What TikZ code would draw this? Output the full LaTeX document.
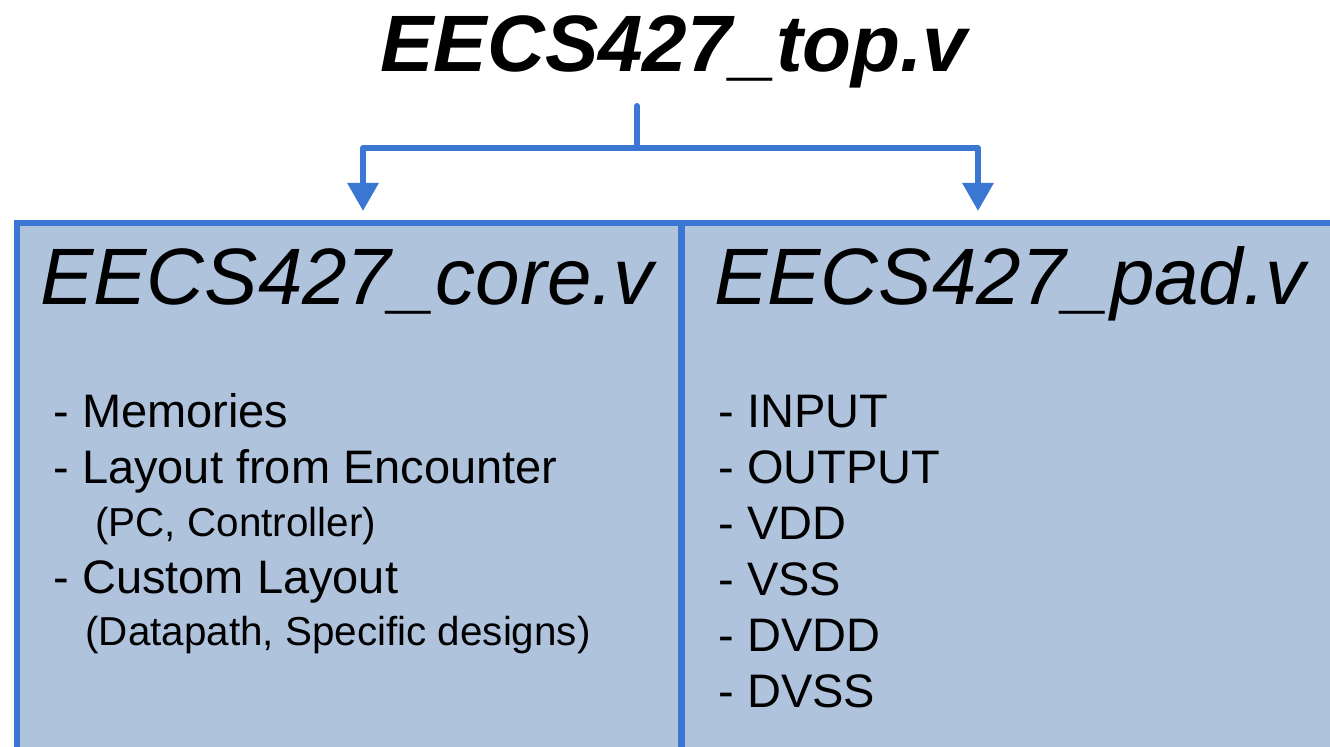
\documentclass[tikz,border=0pt]{standalone}
\usepackage{fontspec}
\setmainfont{Liberation Sans}
\usepackage{tikz}
\usetikzlibrary{arrows.meta, positioning}

\definecolor{wireblue}{HTML}{3A77D2}
\definecolor{boxfill}{HTML}{B0C3DD}

\begin{document}
\begin{tikzpicture}[x=0.5pt, y=-0.5pt,
  wire/.style={draw=wireblue, line width=3pt, line cap=round, line join=round},
  module/.style={draw=wireblue, fill=boxfill, line width=3pt, inner sep=0pt, anchor=north west, minimum height=264.5pt},
  bigname/.style={font=\itshape\fontsize{40}{48}\selectfont, anchor=base, inner sep=0pt},
  item/.style={font=\fontsize{23.5}{28}\selectfont, anchor=base west, inner sep=0pt},
  subitem/.style={font=\fontsize{20.2}{25}\selectfont, anchor=base west, inner sep=0pt}]
\useasboundingbox (0,0) rectangle (1330,747);
\clip (0,0) rectangle (1330,747);
% module boxes
\node[module, minimum width=332pt] (core) at (14,220) {};
\node[module, minimum width=328pt] (pad) at (679,220) {};
\node[bigname] (coretitle) at (347,305) {EECS427\_core.v};
\node[bigname] (padtitle) at (1010,305) {EECS427\_pad.v};
% top file
\node[bigname, font=\bfseries\itshape\fontsize{40}{48}\selectfont] (top) at (674,72) {EECS427\_top.v};
\coordinate (stem) at (637,106);
\coordinate (split) at (637,148);
\coordinate (coretip) at (363,211);
\coordinate (padtip) at (978,211);
\draw[wire] (stem) -- (split);
\draw[wire, -{Triangle[width=15pt, length=14pt]}] (split) -| (coretip);
\draw[wire, -{Triangle[width=15pt, length=14pt]}] (split) -| (padtip);
% core contents
\node[item] (mem) at (53,428) {- Memories};
\node[item] (enc) at (53,484) {- Layout from Encounter};
\node[subitem] (encsub) at (95,537) {(PC, Controller)};
\node[item] (cust) at (53,594) {- Custom Layout};
\node[subitem] (custsub) at (85,646) {(Datapath, Specific designs)};
% pad contents
\foreach \lab [count=\i from 0] in {INPUT,OUTPUT,VDD,VSS,DVDD,DVSS}
  \node[item] (pin\i) at (718,428+56*\i) {- \lab};
\end{tikzpicture}
\end{document}
